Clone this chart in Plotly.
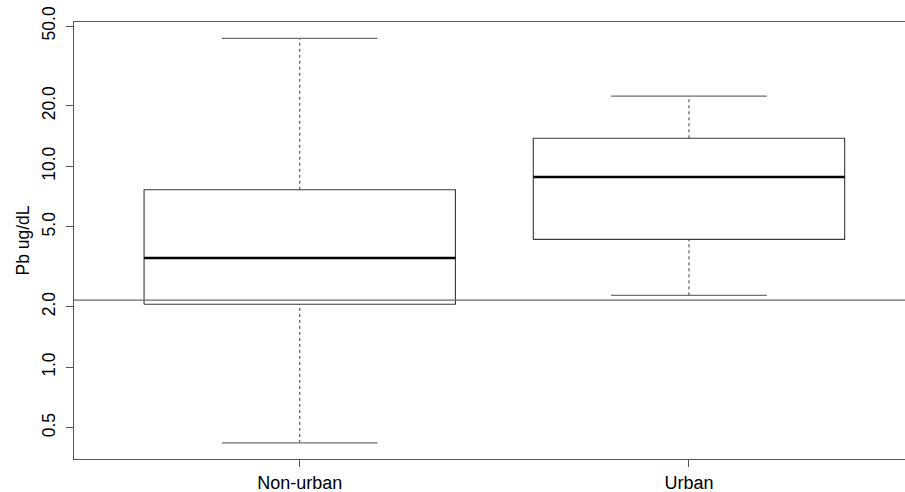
import math
import plotly.graph_objects as go

# Blood lead (Pb, ug/dL) summary by residence type
groups = ["Non-urban", "Urban"]
lower_whisker = [0.42, 2.28]
q1 = [2.06, 4.33]
median = [3.50, 8.85]
q3 = [7.65, 13.8]
upper_whisker = [43.4, 22.4]
reference_level = 2.16

y_ticks = [0.5, 1.0, 2.0, 5.0, 10.0, 20.0, 50.0]
y_tick_labels = ["0.5", "1.0", "2.0", "5.0", "10.0", "20.0", "50.0"]

BOX_HALF = 0.4
CAP_HALF = 0.2
LINE = "#3a3a3a"
FONT = "Liberation Sans, Arial, sans-serif"

fig = go.Figure()

for i, name in enumerate(groups):
    c = i + 1
    # dashed whiskers
    for lo, hi in ((q3[i], upper_whisker[i]), (lower_whisker[i], q1[i])):
        fig.add_trace(go.Scatter(
            x=[c, c], y=[lo, hi], mode="lines",
            line=dict(color=LINE, width=1, dash="3px,3px"),
            hoverinfo="skip", showlegend=False))
    # whisker caps
    for v in (upper_whisker[i], lower_whisker[i]):
        fig.add_trace(go.Scatter(
            x=[c - CAP_HALF, c + CAP_HALF], y=[v, v], mode="lines",
            line=dict(color="#707070", width=1.3),
            hoverinfo="skip", showlegend=False))
    # interquartile box
    fig.add_trace(go.Scatter(
        x=[c - BOX_HALF, c + BOX_HALF, c + BOX_HALF, c - BOX_HALF, c - BOX_HALF],
        y=[q1[i], q1[i], q3[i], q3[i], q1[i]],
        mode="lines", line=dict(color=LINE, width=1.1),
        fill="toself", fillcolor="white",
        hoverinfo="skip", showlegend=False))
    # median
    fig.add_trace(go.Scatter(
        x=[c - BOX_HALF, c + BOX_HALF], y=[median[i], median[i]], mode="lines",
        line=dict(color="black", width=2.6),
        hoverinfo="skip", showlegend=False))

# horizontal reference level across the whole panel
fig.add_shape(type="line", xref="paper", x0=0, x1=1, yref="y",
              y0=reference_level, y1=reference_level,
              line=dict(color="#6a6a6a", width=1.3), layer="above")

fig.update_layout(
    width=905, height=492,
    margin=dict(l=74, r=0, t=22, b=33),
    paper_bgcolor="white", plot_bgcolor="white",
    font=dict(family=FONT, size=17.5, color="black"),
    xaxis=dict(
        range=[0.42, 2.555],
        tickmode="array", tickvals=[1, 2], ticktext=groups,
        ticks="outside", ticklen=7, tickcolor="#555",
        showline=True, linecolor="#555", linewidth=1.2, mirror=True,
        showgrid=False, zeroline=False,
        tickfont=dict(size=18),
    ),
    yaxis=dict(
        type="log",
        range=[math.log10(0.5) - 0.1559, math.log10(50) + 0.0199],
        tickmode="array", tickvals=y_ticks, ticktext=y_tick_labels,
        tickangle=-90,
        ticks="outside", ticklen=7, tickcolor="#555",
        ticklabelstandoff=4,
        showline=True, linecolor="#555", linewidth=1.2, mirror=False,
        showgrid=False, zeroline=False,
        title=dict(text="Pb ug/dL", standoff=4, font=dict(size=17.5)),
        tickfont=dict(size=17.5),
    ),
)

fig.write_html("out.html")
